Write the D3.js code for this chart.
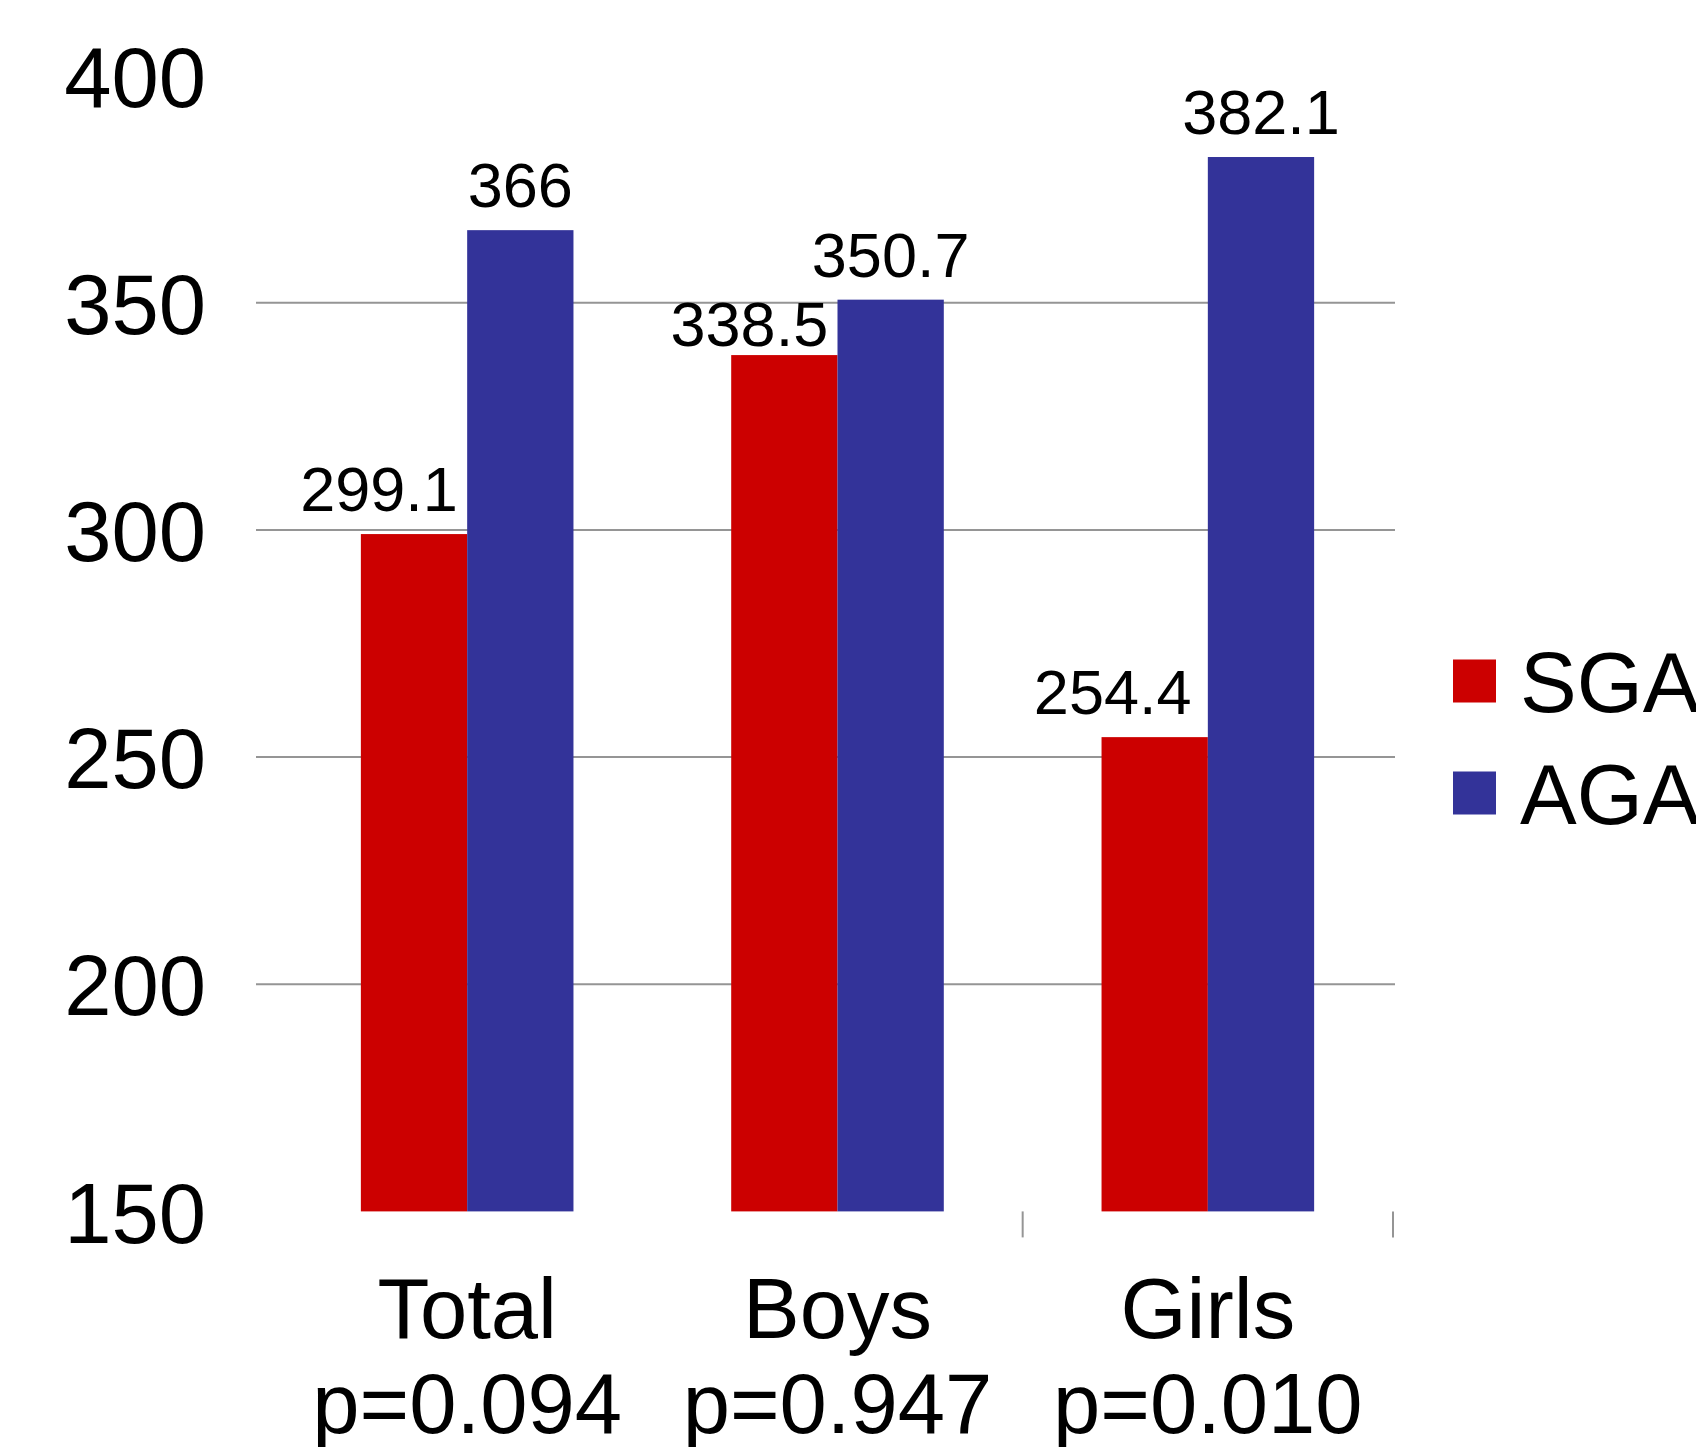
<!DOCTYPE html>
<html>
<head>
<meta charset="utf-8">
<script src="https://cdn.jsdelivr.net/npm/d3@7"></script>
<style>
  html, body { margin: 0; padding: 0; background: #fff; }
  svg { display: block; font-family: "Liberation Sans", Arial, sans-serif; }
</style>
</head>
<body>
<svg id="chart" width="1696" height="1447"></svg>
<script>
// ---- data ----
const categories = ["Total", "Boys", "Girls"];
const pValues = ["p=0.094", "p=0.947", "p=0.010"];
const series = ["SGA", "AGA"];
const sgaValues = [299.1, 338.5, 254.4];
const agaValues = [366, 350.7, 382.1];
const yTicks = [150, 200, 250, 300, 350, 400];
const gridTicks = [200, 250, 300, 350];
const colors = ["#cc0000", "#333399"];

// ---- layout ----
const svg = d3.select("#chart");
const plotLeft = 282, plotRight = 1393;
const gridLeft = 256;
const y = d3.scaleLinear().domain([150, 400]).range([1211.4, 75.7]);
const x0 = d3.scaleBand().domain(categories).range([plotLeft, plotRight]).paddingInner(0).paddingOuter(0);
const barW = 106.3;
const x1 = d3.scaleBand().domain(series).range([x0.bandwidth() / 2 - barW, x0.bandwidth() / 2 + barW]);

const data = categories.map((c, i) => ({
  cat: c,
  vals: [ {s: "SGA", v: sgaValues[i]}, {s: "AGA", v: agaValues[i]} ]
}));

// gridlines
svg.append("g").selectAll("line").data(gridTicks).join("line")
  .attr("x1", gridLeft).attr("x2", plotRight + 2)
  .attr("y1", d => y(d)).attr("y2", d => y(d))
  .attr("stroke", "#959595").attr("stroke-width", 2);

// y-axis labels
const yAxis = d3.axisLeft(y).tickValues(yTicks).tickSize(0).tickPadding(0);
const yg = svg.append("g").attr("transform", "translate(206,0)").call(yAxis);
yg.select(".domain").remove();
yg.selectAll("text").attr("font-size", 85).attr("fill", "#000")
  .attr("font-family", "Liberation Sans, Arial, sans-serif").attr("dy", "0.36em");

// x-axis ticks (band boundaries)
const tickXs = categories.slice(1).map(c => x0(c) + x0.bandwidth());
svg.append("g").selectAll("line").data(tickXs).join("line")
  .attr("x1", d => d).attr("x2", d => d)
  .attr("y1", y(150)).attr("y2", y(150) + 26)
  .attr("stroke", "#959595").attr("stroke-width", 2);

// bars
const groups = svg.append("g").selectAll("g").data(data).join("g")
  .attr("transform", d => `translate(${x0(d.cat)},0)`);
groups.selectAll("rect").data(d => d.vals).join("rect")
  .attr("x", d => x1(d.s)).attr("width", x1.bandwidth())
  .attr("y", d => y(d.v)).attr("height", d => y(150) - y(d.v))
  .attr("fill", (d, i) => colors[i]);

// value labels
groups.selectAll("text.val").data(d => d.vals).join("text")
  .attr("class", "val")
  .attr("x", d => x1(d.s) + x1.bandwidth() / 2 + (d.s === "SGA" ? (d.v < 260 ? -42 : -35) : 0))
  .attr("y", d => y(d.v) - (d.s === "SGA" && d.v > 330 ? 9 : 23))
  .attr("text-anchor", "middle")
  .attr("font-size", 63).attr("fill", "#000")
  .text(d => d.v);

// category labels
const xl = svg.append("g").selectAll("text").data(categories).join("text")
  .attr("x", d => x0(d) + x0.bandwidth() / 2)
  .attr("y", 1338)
  .attr("text-anchor", "middle").attr("font-size", 85).attr("fill", "#000");
xl.append("tspan").attr("x", d => x0(d) + x0.bandwidth() / 2).text(d => d);
xl.append("tspan").attr("x", d => x0(d) + x0.bandwidth() / 2).attr("dy", 95)
  .text((d, i) => pValues[i]);

// legend
const leg = svg.append("g").selectAll("g").data(series).join("g")
  .attr("transform", (d, i) => `translate(1453,${681 + i * 112})`);
leg.append("rect").attr("x", 0).attr("y", -21.5).attr("width", 43).attr("height", 43)
  .attr("fill", (d, i) => colors[i]);
leg.append("text").attr("x", 67).attr("y", 0).attr("dy", "0.36em")
  .attr("font-size", 85).attr("fill", "#000").text(d => d);
</script>
</body>
</html>
